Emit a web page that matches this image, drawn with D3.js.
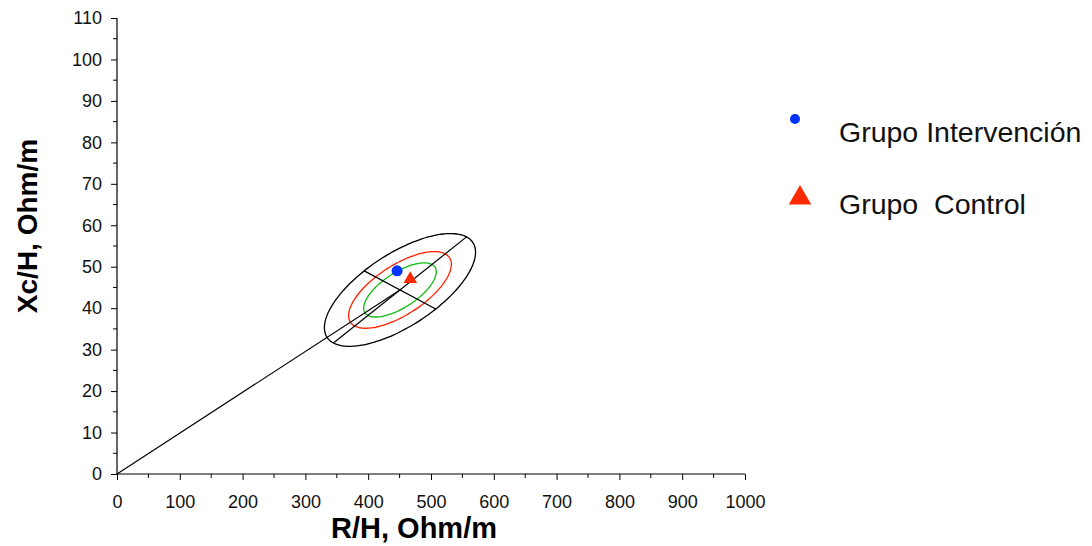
<!DOCTYPE html>
<html>
<head>
<meta charset="utf-8">
<script src="https://cdn.jsdelivr.net/npm/d3@7"></script>
<style>
  html, body { margin: 0; padding: 0; background: #fff; }
  svg { display: block; font-family: "Liberation Sans", Arial, sans-serif; }
</style>
</head>
<body>
<svg id="chart" width="1092" height="546"></svg>
<script>
// ---- data ----
const groupNames = ["Grupo Intervención", "Grupo  Control"];
const groupR = [446, 467];      // R/H, Ohm/m
const groupXc = [49, 47];       // Xc/H, Ohm/m
const ellipseCenter = [450.6, 44.4];
const ellipseMajorHalf = [106, 12.8];
const ellipseMinorHalf = [57, -4.6];
const ellipseLevels = ["95%", "75%", "50%"];
const ellipseScale = [1, 0.68, 0.48];
const xTicks = [0, 100, 200, 300, 400, 500, 600, 700, 800, 900, 1000];
const yTicks = [0, 10, 20, 30, 40, 50, 60, 70, 80, 90, 100, 110];
const xMinor = [50, 150, 250, 350, 450, 550, 650, 750, 850, 950];
const yMinor = [5, 15, 25, 35, 45, 55, 65, 75, 85, 95, 105];

// ---- styles ----
const ellipseColors = ["#000000", "#ff2200", "#11bb11"];
const pointColors = ["#0033ff", "#ff2a00"];

const svg = d3.select("#chart");
const x = d3.scaleLinear().domain([0, 1000]).range([117, 745]);
const y = d3.scaleLinear().domain([0, 110]).range([474, 18]);

// axes
const xAxis = svg.append("g").attr("transform", `translate(0,${y(0)})`)
  .call(d3.axisBottom(x).tickValues(xTicks).tickSize(6).tickPadding(15).tickFormat(d3.format("d")));
xAxis.append("g").selectAll("line").data(xMinor).join("line")
  .attr("x1", d => x(d)).attr("x2", d => x(d)).attr("y1", 0).attr("y2", 4).attr("stroke", "#000");
const yAxis = svg.append("g").attr("transform", `translate(${x(0)},0)`)
  .call(d3.axisLeft(y).tickValues(yTicks).tickSize(6).tickPadding(9).tickFormat(d3.format("d")));
yAxis.append("g").selectAll("line").data(yMinor).join("line")
  .attr("y1", d => y(d)).attr("y2", d => y(d)).attr("x1", 0).attr("x2", -4).attr("stroke", "#000");
[xAxis, yAxis].forEach(a => {
  a.select(".domain").attr("stroke", "#000").attr("stroke-width", 1.2);
  a.selectAll(".tick line").attr("stroke", "#000");
  a.selectAll("text").attr("font-family", "Liberation Sans, Arial, sans-serif")
    .attr("font-size", 18).attr("fill", "#111");
});
xAxis.select(".domain").attr("d", `M${x(0)},0H${x(1000)}`);
yAxis.select(".domain").attr("d", `M0,${y(0)}V${y(110)}`);

// axis titles
svg.append("text").attr("x", 414).attr("y", 538).attr("text-anchor", "middle")
  .attr("font-size", 29).attr("font-weight", "bold").text("R/H, Ohm/m");
svg.append("text").attr("transform", "translate(37,226) rotate(-90)").attr("text-anchor", "middle")
  .attr("font-size", 28).attr("font-weight", "bold").text("Xc/H, Ohm/m");

// ellipses
const ts = d3.range(0, 361, 3).map(a => a * Math.PI / 180);
const line = d3.line().x(d => x(d[0])).y(d => y(d[1]));
ellipseScale.forEach((k, i) => {
  const pts = ts.map(t => [
    ellipseCenter[0] + k * (ellipseMajorHalf[0] * Math.cos(t) + ellipseMinorHalf[0] * Math.sin(t)),
    ellipseCenter[1] + k * (ellipseMajorHalf[1] * Math.cos(t) + ellipseMinorHalf[1] * Math.sin(t))
  ]);
  svg.append("path").attr("d", line.curve(d3.curveCardinalClosed)(pts.slice(0, -1)))
    .attr("fill", "none").attr("stroke", ellipseColors[i]).attr("stroke-width", 1.3);
});
line.curve(d3.curveLinear);
const c = ellipseCenter, u = ellipseMajorHalf, v = ellipseMinorHalf;
svg.append("path").attr("d", line([[c[0] - u[0], c[1] - u[1]], [c[0] + u[0], c[1] + u[1]]]))
  .attr("stroke", "#000").attr("stroke-width", 1.2).attr("fill", "none");
svg.append("path").attr("d", line([[c[0] - v[0], c[1] - v[1]], [c[0] + v[0], c[1] + v[1]]]))
  .attr("stroke", "#000").attr("stroke-width", 1.2).attr("fill", "none");
svg.append("path").attr("d", line([[0, 0], c]))
  .attr("stroke", "#000").attr("stroke-width", 1.2).attr("fill", "none");

// points
svg.append("circle").attr("cx", x(groupR[0])).attr("cy", y(groupXc[0])).attr("r", 5.5)
  .attr("fill", pointColors[0]);
svg.append("path").attr("transform", `translate(${x(groupR[1])},${y(groupXc[1])})`)
  .attr("d", d3.symbol(d3.symbolTriangle, 80)()).attr("fill", pointColors[1]);

// legend
const legSymY = [119, 198];
const legTextY = [142, 214];
svg.append("circle").attr("cx", 795).attr("cy", legSymY[0]).attr("r", 5).attr("fill", pointColors[0]);
svg.append("path").attr("transform", `translate(800,${legSymY[1]})`)
  .attr("d", d3.symbol(d3.symbolTriangle, 220)()).attr("fill", pointColors[1]);
groupNames.forEach((g, i) => {
  svg.append("text").attr("x", 839).attr("y", legTextY[i]).attr("font-size", 28.5)
    .attr("fill", "#111").style("white-space", "pre").text(g);
});
</script>
</body>
</html>
